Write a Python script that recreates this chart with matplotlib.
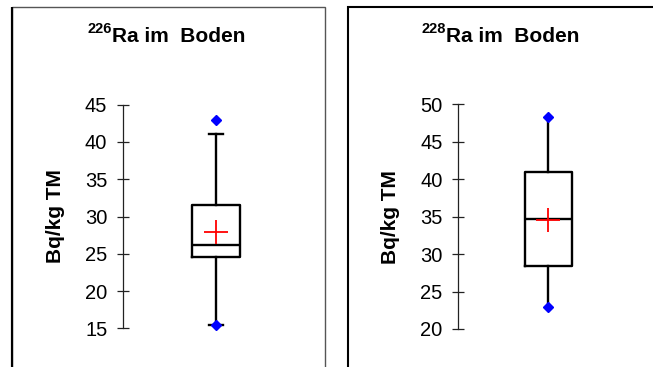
import matplotlib
matplotlib.use("Agg")
import matplotlib.pyplot as plt
from matplotlib.patches import Rectangle

plt.rcParams['font.family'] = ['Liberation Sans', 'DejaVu Sans']

# ---- data ----
titles_sup = ["226", "228"]
titles_main = ["Ra im  Boden", "Ra im  Boden"]
ylabel = "Bq/kg TM"
yticks_left = [15, 20, 25, 30, 35, 40, 45]
yticks_right = [20, 25, 30, 35, 40, 45, 50]

ra226_q1, ra226_med, ra226_q3 = 24.6, 26.2, 31.5
ra226_whislo, ra226_whishi = 15.5, 41.1
ra226_mean = 27.9
ra226_min, ra226_max = 15.5, 43.0

ra228_q1, ra228_med, ra228_q3 = 28.4, 34.7, 41.0
ra228_whislo, ra228_whishi = 23.0, 48.3
ra228_mean = 34.6
ra228_min, ra228_max = 23.0, 48.3

W, H = 653, 367
fig = plt.figure(figsize=(W / 100, H / 100), dpi=100)

# panel frames
fig.patches.append(Rectangle((12.5 / W, -0.1), (324.5 - 12.5) / W, 1.1 - 7 / H,
                             transform=fig.transFigure, fill=False,
                             edgecolor='#555555', linewidth=1.0))
fig.patches.append(Rectangle((12.5 / W, -0.1), 0, 1.1 - 7 / H,
                             transform=fig.transFigure, fill=False,
                             edgecolor='black', linewidth=1.5))
fig.patches.append(Rectangle((348.5 / W, -0.1), 1.0, 1.1 - 6.5 / H,
                             transform=fig.transFigure, fill=False,
                             edgecolor='black', linewidth=1.5))


def make_panel(ax_rect, stats, ylim, ticks, sup, main, title_x, showcaps, label_x):
    ax = fig.add_axes(ax_rect)
    ax.bxp([stats], positions=[1], widths=0.52, showmeans=True, showcaps=showcaps,
           showfliers=False, capwidths=[0.14],
           boxprops=dict(color='black', linewidth=1.7),
           medianprops=dict(color='black', linewidth=1.7),
           whiskerprops=dict(color='black', linewidth=1.7),
           capprops=dict(color='black', linewidth=1.7),
           meanprops=dict(marker='+', markeredgecolor='red', markersize=17,
                          markeredgewidth=1.3))
    ax.plot([1, 1], [stats['fmin'], stats['fmax']], linestyle='none', marker='D',
            markersize=5.6, color='#0000ff', clip_on=False, zorder=5)
    ax.set_xlim(0, 2)
    ax.set_ylim(*ylim)
    ax.set_yticks(ticks)
    ax.set_xticks([])
    for s in ['top', 'right', 'bottom']:
        ax.spines[s].set_visible(False)
    ax.spines['left'].set_linewidth(0.9)
    ax.spines['left'].set_color('#222222')
    ax.tick_params(axis='y', direction='inout', length=8.6, width=0.9,
                   color='#222222', labelsize=14.5, pad=7)
    ax.patch.set_visible(False)
    ax.set_ylabel(ylabel, fontsize=15, fontweight='bold')
    ax.yaxis.set_label_coords(label_x, 0.5)
    fig.text(title_x / W, 1 - 42.5 / H, main, fontsize=15, fontweight='bold',
             ha='left', va='baseline')
    fig.text(title_x / W, 1 - 33 / H, sup, fontsize=10.5, fontweight='bold',
             ha='right', va='baseline')
    return ax


s1 = dict(med=ra226_med, q1=ra226_q1, q3=ra226_q3, whislo=ra226_whislo,
          whishi=ra226_whishi, mean=ra226_mean, fliers=[],
          fmin=ra226_min, fmax=ra226_max)
s2 = dict(med=ra228_med, q1=ra228_q1, q3=ra228_q3, whislo=ra228_whislo,
          whishi=ra228_whishi, mean=ra228_mean, fliers=[],
          fmin=ra228_min, fmax=ra228_max)

make_panel([123 / W, 1 - 328.3 / H, 186 / W, 223.6 / H], s1, (15, 45),
           yticks_left, titles_sup[0], titles_main[0], 112, True, -0.312)
make_panel([458.3 / W, 1 - 329 / H, 180 / W, 224.7 / H], s2, (20, 50),
           yticks_right, titles_sup[1], titles_main[1], 446, False, -0.325)

fig.savefig("out.png", dpi=100)
